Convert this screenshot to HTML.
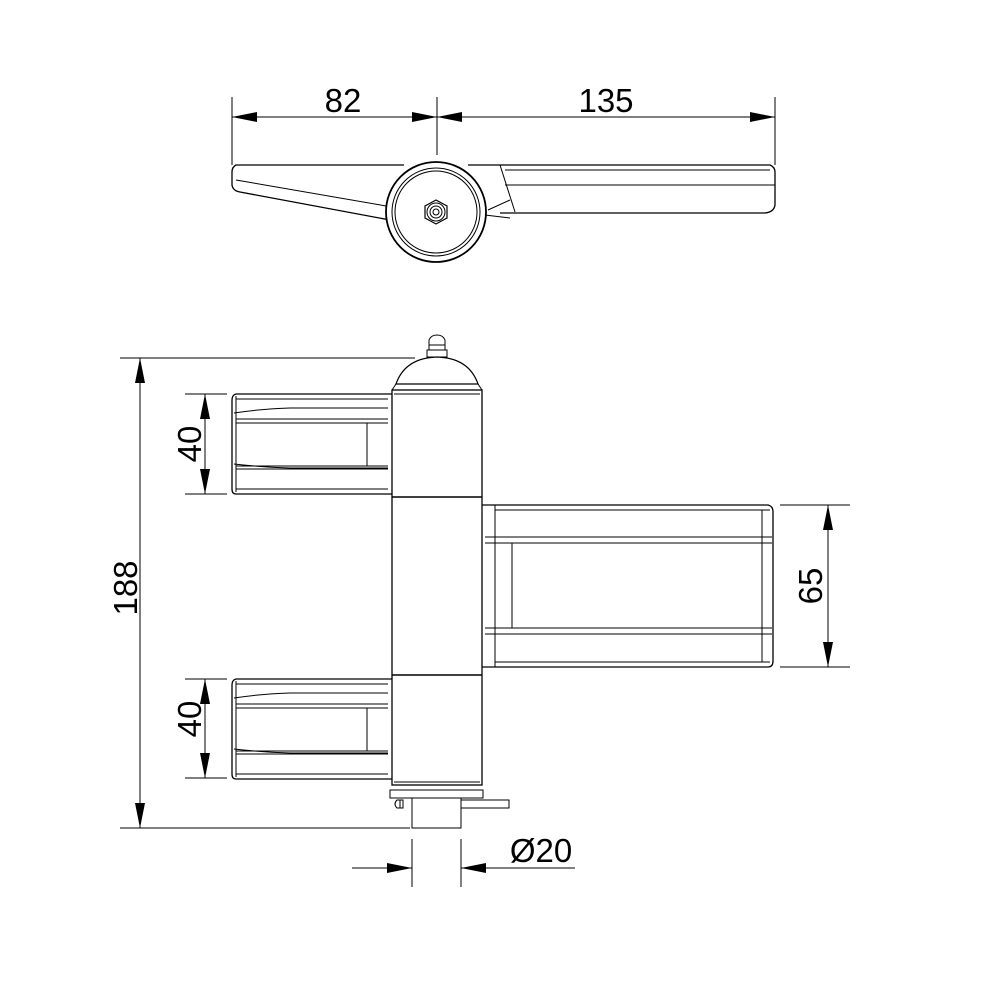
<!DOCTYPE html>
<html><head><meta charset="utf-8"><style>html,body{margin:0;padding:0;background:#fff}svg{display:block}</style></head>
<body>
<svg width="1000" height="1000" viewBox="0 0 1000 1000" xmlns="http://www.w3.org/2000/svg" font-family="Liberation Sans, sans-serif">
<defs>
<marker id="a" viewBox="0 0 25 10" refX="25" refY="5" markerWidth="25" markerHeight="10" markerUnits="userSpaceOnUse" orient="auto-start-reverse"><path d="M0,0L25,5L0,10z" fill="#000"/></marker>
</defs>
<g stroke="#000" fill="none" stroke-width="1">
<line x1="232" y1="97" x2="232" y2="165"/>
<line x1="437" y1="97" x2="437" y2="155"/>
<line x1="775" y1="97" x2="775" y2="165"/>
<line x1="232" y1="117" x2="437" y2="117" marker-start="url(#a)" marker-end="url(#a)"/>
<line x1="437" y1="117" x2="775" y2="117" marker-start="url(#a)" marker-end="url(#a)"/>
<path d="M404,165 L236,165 Q232,167 232,172 L232,185 Q233,191 240,192 L390,220" stroke-width="1.3"/>
<path d="M236,180 L392,207"/>
<path d="M468,165 L770,165 Q775,167 775,172 L775,205 Q774,212 765,213 L500,213" stroke-width="1.3"/>
<path d="M505,170 L770,170 M505,185 L775,185 M500,165 L515,212 M488,210 L510,200 M485,215 L510,218"/>
<circle cx="436" cy="212" r="50" stroke-width="1.8" fill="#fff"/>
<circle cx="436" cy="212" r="44"/>
<circle cx="436" cy="212" r="41"/>
<polygon points="436,200 447,206 447,218 436,224 425,218 425,206" stroke-width="1.2"/>
<circle cx="436" cy="212" r="9"/><circle cx="436" cy="212" r="6"/><circle cx="436" cy="212" r="3"/>
<rect x="392" y="390" width="90" height="395" stroke-width="1.3"/>
<line x1="392" y1="497" x2="482" y2="497" stroke-width="1.5"/>
<line x1="392" y1="675" x2="482" y2="675" stroke-width="1.5"/>
<line x1="394" y1="394" x2="480" y2="394"/>
<line x1="394" y1="782" x2="480" y2="782"/>
<path d="M396,384 Q405,358 437,357 Q469,358 478,384 Z" stroke-width="1.2"/>
<path d="M392,390 L396,384 L478,384 L482,390"/>
<rect x="427" y="350" width="20" height="7"/>
<path d="M429,350 L429,340 Q431,335 437,335 Q443,335 445,340 L445,350"/>
<line x1="429" y1="345" x2="445" y2="345"/>
<rect x="390" y="790" width="93" height="8"/>
<rect x="412" y="798" width="49" height="30"/>
<rect x="461" y="800" width="48" height="8"/>
<path d="M403,800 L397,800 Q393,804 397,808 L403,808 Z M400,800 L400,808"/>
<g id="lf">
<path d="M392,394 L236,394 Q232,395 232,400 L232,489 Q232,494 236,494 L392,494" stroke-width="1.3"/>
<path d="M236,399 L388,399 M236,419 L388,419 M236,469 L388,469 M236,489 L388,489"/>
<path d="M234,413 Q260,409 290,408 L388,408 M234,464 Q260,467 290,468 L388,468 M236,423 L388,423 M236,466 L388,466"/>
<line x1="367" y1="423" x2="367" y2="466"/>
<line x1="236" y1="396" x2="236" y2="492"/>
</g>
<use href="#lf" transform="translate(0,285)"/>
<path d="M482,505 L768,505 Q773,506 773,512 L773,661 Q773,667 768,667 L482,667" stroke-width="1.3"/>
<path d="M495,510 L770,510 M485,537 L772,537 M485,543 L772,543 M485,628 L772,628 M485,634 L772,634 M495,662 L770,662"/>
<line x1="512" y1="543" x2="512" y2="628"/>
<line x1="762" y1="510" x2="762" y2="662"/>
<line x1="495" y1="505" x2="495" y2="667"/>
<line x1="120" y1="358" x2="415" y2="358"/>
<line x1="120" y1="828" x2="410" y2="828"/>
<line x1="140" y1="358" x2="140" y2="828" marker-start="url(#a)" marker-end="url(#a)"/>
<line x1="185" y1="394" x2="227" y2="394"/><line x1="185" y1="494" x2="227" y2="494"/>
<line x1="205" y1="394" x2="205" y2="494" marker-start="url(#a)" marker-end="url(#a)"/>
<line x1="185" y1="679" x2="227" y2="679"/><line x1="185" y1="778" x2="227" y2="778"/>
<line x1="205" y1="679" x2="205" y2="778" marker-start="url(#a)" marker-end="url(#a)"/>
<line x1="780" y1="505" x2="850" y2="505"/><line x1="780" y1="667" x2="850" y2="667"/>
<line x1="828" y1="505" x2="828" y2="667" marker-start="url(#a)" marker-end="url(#a)"/>
<line x1="412" y1="839" x2="412" y2="887"/><line x1="461" y1="839" x2="461" y2="887"/>
<line x1="352" y1="868" x2="412" y2="868" marker-end="url(#a)"/>
<line x1="575" y1="868" x2="461" y2="868" marker-end="url(#a)"/>
</g>
<g font-size="33" fill="#000" text-anchor="middle">
<text x="343" y="112">82</text>
<text x="606" y="112">135</text>
<text x="541" y="862">Ø20</text>
<text transform="translate(137,588) rotate(-90)">188</text>
<text transform="translate(201,444) rotate(-90)">40</text>
<text transform="translate(201,719) rotate(-90)">40</text>
<text transform="translate(822,586) rotate(-90)">65</text>
</g>
</svg>
</body></html>
